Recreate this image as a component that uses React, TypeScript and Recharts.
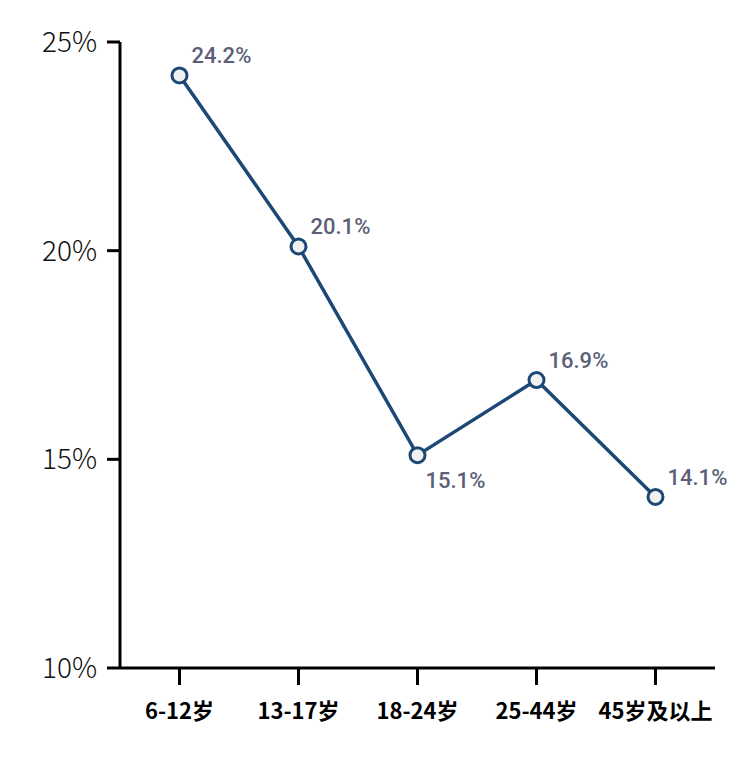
import { LineChart, Line, XAxis, YAxis, LabelList } from "recharts";

const ageGroups = ["6-12岁", "13-17岁", "18-24岁", "25-44岁", "45岁及以上"];
const shares = [24.2, 20.1, 15.1, 16.9, 14.1];
const yTicks = [10, 15, 20, 25];

const data = ageGroups.map((group, i) => ({ group, share: shares[i] }));

const lineColor = "#1b4875";

function ValueLabel(props: any) {
  const { x, y, value, index } = props;
  const prev = shares[index - 1];
  const next = shares[index + 1];
  // a dip gets its label underneath
  const below = prev !== undefined && next !== undefined && value < prev && value < next;
  return (
    <text
      x={x + (below ? 8 : 12)}
      y={below ? y + 33 : y - 12}
      fill="#5b5f77"
      fontSize={22}
      fontWeight={500}
      fontFamily="Roboto, sans-serif"
    >
      {value.toFixed(1)}%
    </text>
  );
}

export default function App() {
  return (
    <div style={{ position: "absolute", left: 0, top: 0, background: "#fff" }}>
      <LineChart
        width={753}
        height={774}
        data={data}
        margin={{ top: 42, right: 38, bottom: 0, left: 0 }}
      >
        <XAxis
          dataKey="group"
          height={106}
          padding={{ left: 59.5, right: 59.5 }}
          axisLine={{ stroke: "#000", strokeWidth: 3 }}
          tickLine={{ stroke: "#000", strokeWidth: 3 }}
          tickSize={17}
          tickMargin={18}
          tick={{
            fill: "#000",
            fontSize: 22,
            fontWeight: 700,
            fontFamily: "'Noto Sans CJK SC', sans-serif",
          }}
        />
        <YAxis
          width={120}
          domain={[10, 25]}
          ticks={yTicks}
          interval={0}
          tickFormatter={(v) => `${v}%`}
          axisLine={{ stroke: "#000", strokeWidth: 3 }}
          tickLine={{ stroke: "#000", strokeWidth: 3 }}
          tickSize={13}
          tickMargin={10}
          tick={{
            fill: "#111",
            fontSize: 28,
            fontWeight: 300,
            fontFamily: "'Noto Sans CJK SC', sans-serif",
          }}
        />
        <Line
          type="linear"
          dataKey="share"
          stroke={lineColor}
          strokeWidth={3.5}
          dot={{ r: 7.5, fill: "#f1f1f1", stroke: lineColor, strokeWidth: 3 }}
          isAnimationActive={false}
        >
          <LabelList dataKey="share" content={<ValueLabel />} />
        </Line>
      </LineChart>
    </div>
  );
}
